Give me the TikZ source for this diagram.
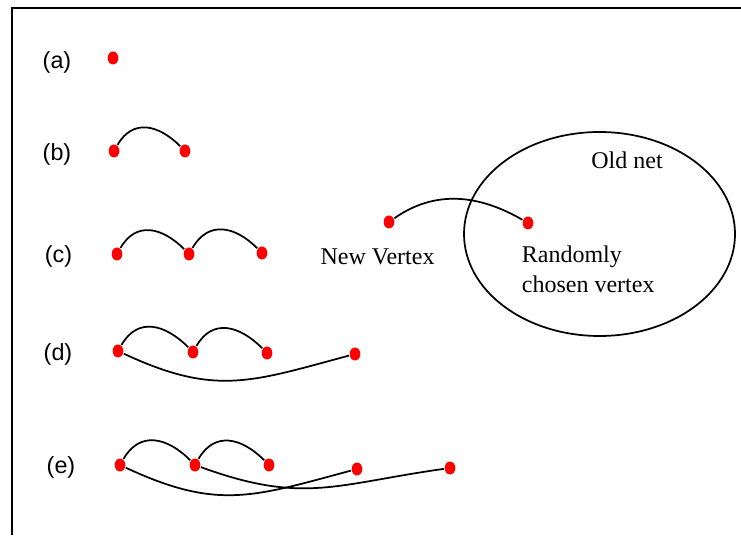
\documentclass[tikz,border=0pt]{standalone}
\usepackage{fontspec}
\setmainfont{Liberation Serif}
\setsansfont{Liberation Sans}
\usetikzlibrary{shapes.geometric}
\tikzset{
  vtx/.style={ellipse, fill=red, inner sep=0pt, minimum width=8pt, minimum height=9.75pt},
  hop/.style={out=60, in=135, looseness=1.25},
  sweep/.style={out=-25, in=-165, looseness=1.15},
  tag/.style={font=\sffamily\fontsize{17.5}{21}\selectfont},
  note/.style={font=\fontsize{18}{23}\selectfont, inner sep=0pt}
}
\begin{document}
\begin{tikzpicture}[x=0.75pt, y=0.75pt, line width=1.3pt]
\useasboundingbox (0,0) rectangle (741,535);
%Frame
\draw[line width=1.5pt] (741,527) -- (12,527) -- (12,0);

%Names
\node[tag] (la) at (57,473) {(a)};
\node[tag] (lb) at (57,381) {(b)};
\node[tag] (lc) at (58.5,279) {(c)};
\node[tag] (ld) at (58,181) {(d)};
\node[tag] (le) at (61,67.5) {(e)};

%Vertices
\node[vtx] (a1) at (113,477) {};

\node[vtx] (b1) at (114,384) {};
\node[vtx] (b2) at (185,384) {};

\node[vtx] (c1) at (117,281) {};
\node[vtx] (c2) at (189,281) {};
\node[vtx] (c3) at (262,282) {};

\node[vtx] (d1) at (118,184) {};
\node[vtx] (d2) at (193,183) {};
\node[vtx] (d3) at (267,182) {};
\node[vtx] (d4) at (355,181) {};

\node[vtx] (e1) at (120,70) {};
\node[vtx] (e2) at (195,70) {};
\node[vtx] (e3) at (269,70) {};
\node[vtx] (e4) at (357,66) {};
\node[vtx] (e5) at (450,67) {};

\node[vtx] (nv) at (389,313) {};
\node[vtx] (rv) at (528,312) {};

%Old net
\draw (599.5,301) ellipse [x radius=135.5, y radius=102];
\node[note] (old) at (627,375) {Old net};
\node[note] (newv) at (377.5,278) {New Vertex};
\node[note, anchor=north west, align=left] (randv) at (521,290.5) {Randomly\\chosen vertex};

%Edges
\draw (b1) to[hop] (b2);
\draw (c1) to[hop] (c2) to[hop] (c3);
\draw (d1) to[hop] (d2) to[hop] (d3);
\draw (d1) to[sweep] (d4);
\draw (e1) to[hop] (e2) to[hop] (e3);
\draw (e1) to[sweep] (e4);
\draw (e2) to[sweep, out=-20, in=-172] (e5);
\draw (nv) to[out=35, in=150] (rv);

\end{tikzpicture}
\end{document}
